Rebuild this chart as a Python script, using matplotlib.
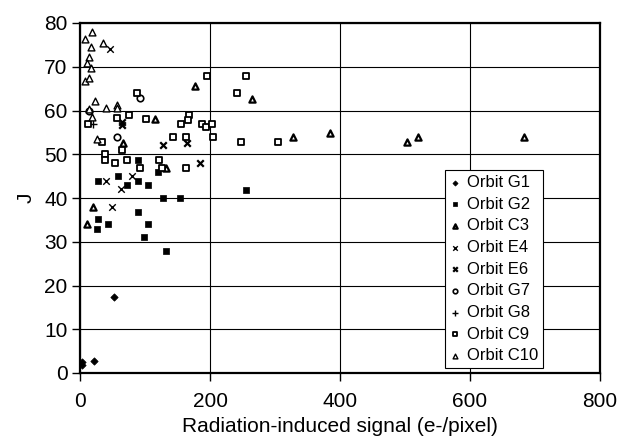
import matplotlib
matplotlib.use("Agg")
import matplotlib.pyplot as plt

plt.rcParams['font.family'] = ['Liberation Sans', 'DejaVu Sans']

# ---- data ----
g1_x = [2.6, 3.5, 22, 52.8]
g1_y = [2.6, 1.8, 2.8, 17.4]

g2_x = [28.2, 59, 71.8, 89.7, 104, 127, 154, 88.7, 28.2, 26.7, 42.6, 104, 99, 132, 88.7, 120.5, 256]
g2_y = [43.9, 45, 43, 43.9, 43, 39.9, 39.9, 36.9, 35.1, 32.9, 34, 34, 31, 28, 48.8, 46, 41.8]

c3_x = [384.6, 503.6, 520.5, 683, 327, 264, 177, 115, 132, 65.6, 20.5, 10.3]
c3_y = [54.9, 52.8, 53.9, 53.9, 54, 62.6, 65.6, 58, 46.9, 52.5, 38, 34]

e4_x = [46, 40, 48.7, 62.6, 79.5]
e4_y = [74, 43.9, 37.9, 42, 45]

e6_x = [64.6, 64, 128, 165, 184.6]
e6_y = [57.4, 56.7, 52.1, 52.6, 47.9]

g7_x = [93, 57.4, 14]
g7_y = [62.9, 54, 60]

g8_x = [19.5]
g8_y = [57]

c9_x = [195, 255, 242, 88, 12.8, 57.4, 76, 101.5, 155, 168, 166.7, 187, 194, 203, 205, 247, 304,
        33.3, 143.6, 163, 64, 38.5, 38.5, 53.8, 73, 122, 92.3, 125.6, 163]
c9_y = [67.9, 67.9, 63.9, 63.9, 56.9, 58.2, 59, 58, 57, 59, 57.8, 57, 56.2, 57, 54, 52.9, 52.9,
        52.9, 54, 54, 51, 50, 48.8, 47.9, 48.8, 48.8, 46.9, 46.9, 46.9]

c10_x = [19, 7.7, 16.4, 34.9, 14.4, 10.3, 16.4, 7.7, 13.3, 23.6, 40, 57.4, 57.4, 18, 25.6, 14.3]
c10_y = [77.9, 76.3, 74.6, 75.4, 72.3, 70.9, 69.8, 66.7, 67.5, 62.2, 60.5, 61.3, 60.5, 58.6, 53.6, 60.3]

labels = ['Orbit G1', 'Orbit G2', 'Orbit C3', 'Orbit E4', 'Orbit E6',
          'Orbit G7', 'Orbit G8', 'Orbit C9', 'Orbit C10']

x_ticks = [0, 200, 400, 600, 800]
y_ticks = [0, 10, 20, 30, 40, 50, 60, 70, 80]

fig = plt.figure(figsize=(6.21, 4.41), dpi=100)
ax = fig.add_axes([80/621, 1 - 373/441, 520/621, 350/441])

series = [
    (g1_x, g1_y, dict(marker='D', s=14, facecolors='black', edgecolors='black', linewidths=0.5)),
    (g2_x, g2_y, dict(marker='s', s=24, facecolors='black', edgecolors='black', linewidths=0.5)),
    (c3_x, c3_y, dict(marker='^', s=20, facecolors='white', edgecolors='black', linewidths=1.6)),
    (e4_x, e4_y, dict(marker='x', s=22, color='black', linewidths=1.0)),
    (e6_x, e6_y, dict(marker='x', s=22, color='black', linewidths=1.6)),
    (g7_x, g7_y, dict(marker='o', s=22, facecolors='white', edgecolors='black', linewidths=1.2)),
    (g8_x, g8_y, dict(marker='+', s=30, color='black', linewidths=1.0)),
    (c9_x, c9_y, dict(marker='s', s=24, facecolors='white', edgecolors='black', linewidths=1.3)),
    (c10_x, c10_y, dict(marker='^', s=24, facecolors='white', edgecolors='black', linewidths=1.0)),
]
for (xs, ys, kw), lab in zip(series, labels):
    ax.scatter(xs, ys, label=lab, zorder=3, **kw)

ax.set_xlim(0, 800)
ax.set_ylim(0, 80)
ax.set_xticks(x_ticks)
ax.set_yticks(y_ticks)
ax.grid(True, color='black', linewidth=0.8)
ax.set_axisbelow(True)
for sp in ax.spines.values():
    sp.set_linewidth(1.6)
    sp.set_color('black')
ax.tick_params(axis='both', labelsize=15, direction='out', length=6, width=1)
ax.tick_params(axis='x', pad=8)
ax.tick_params(axis='y', pad=3)

ax.set_xlabel('Radiation-induced signal (e-/pixel)', fontsize=15, labelpad=4)
ax.set_ylabel('J', fontsize=15, labelpad=6)

leg = ax.legend(loc='upper left', bbox_to_anchor=(0.702, 0.58), borderaxespad=0,
                fontsize=12, frameon=True, fancybox=False, edgecolor='black',
                framealpha=1, handlelength=0.6, handletextpad=0.4, labelspacing=0.4,
                borderpad=0.3, markerscale=0.7, scatterpoints=1)
leg.get_frame().set_linewidth(0.8)

fig.savefig('out.png', dpi=100)
